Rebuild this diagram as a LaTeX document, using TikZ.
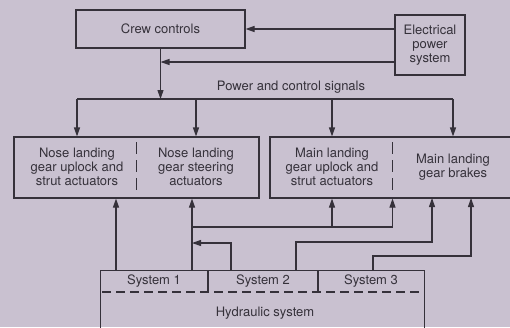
\documentclass[tikz,border=0pt]{standalone}
\usepackage{fontspec}
\setmainfont{TeX Gyre Heros}
\usetikzlibrary{arrows.meta,positioning}
\usepackage{xcolor}
\definecolor{paper}{HTML}{C9C1D0}
\definecolor{ink}{HTML}{35313A}

\begin{document}
\begin{tikzpicture}[
    x=1pt, y=-1pt,
    >={Triangle[length=9pt,width=6pt]},
    every node/.style={font=\fontsize{13}{14}\selectfont, text=ink},
    block/.style={
      rectangle, draw=ink, line width=1.1pt,
      inner sep=0pt, align=center
    },
    unit/.style={align=center, inner sep=0pt},
    flow/.style={draw=ink, line width=1.1pt},
    divider/.style={draw=ink, line width=1.1pt, dash pattern=on 12pt off 6pt},
  ]
  \fill[paper] (0,0) rectangle (510,327);
  \useasboundingbox (0,0) rectangle (510,327);

  % Nodes
  \node[block, minimum width=169pt, minimum height=38pt] (crew) at (160.5,29) {Crew controls};
  \node[block, minimum width=70pt, minimum height=60pt] (eps) at (430,45)
    {Electrical\\power\\system};
  \node (signals) at (291,87) {Power and control signals};
  \coordinate (bus) at (160.5,99);

  \node[block, minimum width=245pt, minimum height=61pt] (nose) at (136.5,167.5) {};
  \node[block, minimum width=245pt, minimum height=61pt] (main) at (392.5,167.5) {};
  \node[unit] (nlu) at (77,167)  {Nose landing\\gear uplock and\\strut actuators};
  \node[unit] (nls) at (196,167) {Nose landing\\gear steering\\actuators};
  \node[unit] (mlu) at (332,167) {Main landing\\gear uplock and\\strut actuators};
  \node[unit] (mlb) at (453,167) {Main landing\\gear brakes};

  \node[block, minimum width=324pt, minimum height=80pt, anchor=north west] (hyd) at (100,270) {};
  \node (sys1) at (154,281) {System 1};
  \node (sys2) at (263,281) {System 2};
  \node (sys3) at (371,281) {System 3};
  \node (hydlabel) at (265,313) {Hydraulic system};

  % Dividers
  \draw[divider] (136.5,142) -- (136.5,194);
  \draw[divider] (392.5,142) -- (392.5,194);
  \draw[flow] (208,270) -- (208,292);
  \draw[flow] (318,270) -- (318,292);
  \draw[flow, dash pattern=on 9pt off 5pt] (102,292) -- (424,292);

  % Electrical supply
  \draw[flow, ->] (eps.west |- crew.east) -- (crew.east);
  \draw[flow, ->] ([yshift=-17pt]eps.west) -- ([yshift=-17pt]eps.west -| crew.south);

  % Power and control signals
  \draw[flow, ->] (crew.south) -- (bus);
  \draw[flow] (nlu |- bus) -- (mlb |- bus);
  \draw[flow, ->] (nlu |- bus) -- (nlu |- nose.north);
  \draw[flow, ->] (nls |- bus) -- (nls |- nose.north);
  \draw[flow, ->] (mlu |- bus) -- (mlu |- main.north);
  \draw[flow, ->] (mlb |- bus) -- (mlb |- main.north);

  % Hydraulic supply
  \coordinate (h1)  at (116,270);
  \coordinate (h2)  at (192,270);
  \coordinate (h3)  at (231,270);
  \coordinate (h4)  at (296,270);
  \coordinate (h5)  at (373,270);
  \coordinate (tee) at (192,227);
  \coordinate (ret) at (192,243);
  \coordinate (in1) at (432,198);
  \coordinate (in2) at (471,198);

  \draw[flow, ->] (h1) -- (h1 |- nose.south);
  \draw[flow, ->] (h2) -- (h2 |- nose.south);
  \draw[flow, ->] (tee) -| (main.south);
  \draw[flow, ->] (mlu |- tee) -- (mlu |- main.south);
  \draw[flow, ->] (h3) |- (ret);
  \draw[flow, ->] (h4) -- ++(0,-28) -| (in1);
  \draw[flow, ->] (h5) -- ++(0,-14) -| (in2);

\end{tikzpicture}
\end{document}
